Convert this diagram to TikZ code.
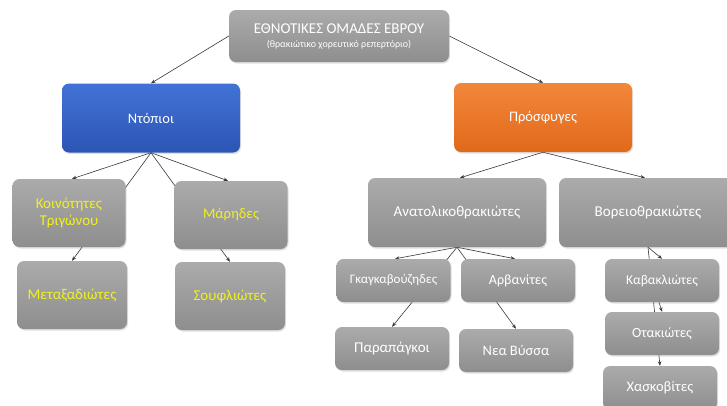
\documentclass[tikz,border=0pt]{standalone}
\usepackage{fontspec}
\setmainfont{Carlito}
\usetikzlibrary{shadows,arrows.meta}
\pgfdeclarelayer{back}
\pgfdeclarelayer{bg}
\pgfsetlayers{back,bg,main}
\definecolor{gtop}{HTML}{ABABAB}
\definecolor{gbot}{HTML}{8E8E8E}
\definecolor{btop}{HTML}{4272D6}
\definecolor{bbot}{HTML}{2C55B5}
\definecolor{otop}{HTML}{F2873A}
\definecolor{obot}{HTML}{E2681B}
\definecolor{ylw}{HTML}{F2F21A}
\definecolor{lnk}{HTML}{383838}
\begin{document}
\begin{tikzpicture}[x=1pt,y=-1pt,
  box/.style={rounded corners=7pt, text=white, align=center, inner sep=0pt,
    drop shadow={opacity=0.25, shadow xshift=1pt, shadow yshift=-1.5pt}},
  gbox/.style={box, top color=gtop, bottom color=gbot},
  bbox/.style={box, top color=btop, bottom color=bbot},
  obox/.style={box, top color=otop, bottom color=obot},
  big/.style={minimum width=178pt, minimum height=69pt, font=\fontsize{15}{17}\selectfont},
  mid/.style={minimum width=113pt, minimum height=68pt, font=\fontsize{15}{17.5}\selectfont},
  small/.style={minimum width=114pt, minimum height=43pt, font=\fontsize{14.5}{16}\selectfont},
  yl/.style={text=ylw},
  link/.style={draw=lnk, line width=0.6pt, -{Stealth[length=4.5pt,width=3.5pt]}}]
\useasboundingbox (0,0) rectangle (727,405);
\clip (0,0) rectangle (727,405);
\begin{pgfonlayer}{back}
\fill[white] (0,0) rectangle (727,405);
\end{pgfonlayer}

\node[gbox, minimum width=220pt, minimum height=52pt] (top) at (339,36)
  {{\fontsize{15}{17}\selectfont ΕΘΝΟΤΙΚΕΣ ΟΜΑΔΕΣ ΕΒΡΟΥ}\\[2pt]{\fontsize{10}{11}\selectfont (θρακιώτικο χορευτικό ρεπερτόριο)}};

\node[bbox, big, font=\fontsize{14.5}{17}\selectfont] (ntop) at (151,118) {Ντόπιοι};
\node[obox, big, font=\fontsize{14.5}{17}\selectfont] (pros) at (543,117.5) {Πρόσφυγες};

\node[gbox, mid, yl] (koin) at (69,213) {Κοινότητες\\Τριγώνου};
\node[gbox, mid, yl, minimum width=110pt] (meta) at (72,295) {Μεταξαδιώτες};
\node[gbox, mid, yl, font=\fontsize{14.5}{17}\selectfont] (mar) at (231,215) {Μάρηδες};
\node[gbox, mid, yl, minimum width=110pt] (souf) at (230,296) {Σουφλιώτες};

\node[gbox, big] (anat) at (457,212.5) {Ανατολικοθρακιώτες};
\node[gbox, big] (vor) at (648,212.5) {Βορειοθρακιώτες};

\node[gbox, small, font=\fontsize{13}{15}\selectfont] (gkag) at (393.5,280.5) {Γκαγκαβούζηδες};
\node[gbox, small, font=\fontsize{14}{16}\selectfont] (arv) at (518,280.5) {Αρβανίτες};
\node[gbox, small, font=\fontsize{15}{16}\selectfont] (parap) at (392,348.5) {Παραπάγκοι};
\node[gbox, small] (nea) at (516,350.5) {Νεα Βύσσα};
\node[gbox, small, font=\fontsize{13.5}{15}\selectfont] (kav) at (662,280.5) {Καβακλιώτες};
\node[gbox, small, font=\fontsize{14}{16}\selectfont] (otak) at (662,333.5) {Οτακιώτες};
\node[gbox, small, minimum height=44pt] (chas) at (660,388) {Χασκοβίτες};

\begin{pgfonlayer}{bg}
\draw[link] (top.west) -- (ntop.north);
\draw[link] (top.east) -- (pros.north);
\draw[link] (ntop.south) -- ([xshift=3pt]koin.north);
\draw[link] (ntop.south) -- ([xshift=-3pt]mar.north);
\draw[link] (ntop.south) -- (meta.north);
\draw[link] (ntop.south) -- (souf.north);
\draw[link] (pros.south) -- ([xshift=3pt]anat.north);
\draw[link] (pros.south) -- ([xshift=-3pt]vor.north);
\draw[link] (anat.south) -- ([xshift=1.5pt]gkag.north);
\draw[link] (anat.south) -- ([xshift=-3pt]arv.north);
\draw[link] (anat.south) -- (parap.north);
\draw[link] (anat.south) -- (nea.north);
\draw[link] (vor.south) -- (kav.north);
\draw[link] (vor.south) -- (chas.north);
\draw[link] ([xshift=-3pt]kav.south) -- (otak.north);
\end{pgfonlayer}
\end{tikzpicture}
\end{document}
